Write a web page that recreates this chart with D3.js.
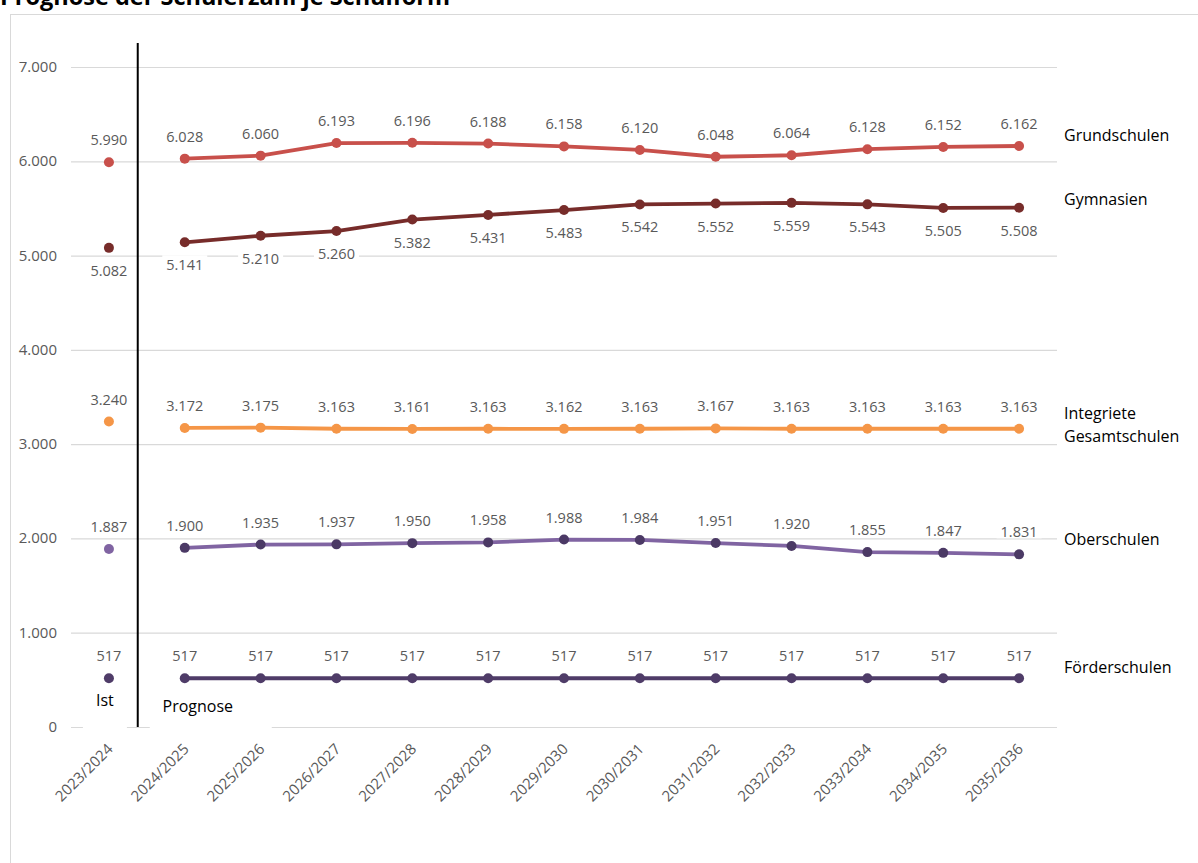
<!DOCTYPE html>
<html>
<head>
<meta charset="utf-8">
<script src="https://cdn.jsdelivr.net/npm/d3@7"></script>
<style>
  html, body { margin: 0; padding: 0; background: #fff; }
  svg { display: block; font-family: "Open Sans", "Noto Sans", sans-serif; }
</style>
</head>
<body>
<div id="chart"></div>
<script>
(function () {
  'use strict';

  /* ── Data ── */
  var years = ['2023/2024', '2024/2025', '2025/2026', '2026/2027', '2027/2028', '2028/2029',
    '2029/2030', '2030/2031', '2031/2032', '2032/2033', '2033/2034', '2034/2035', '2035/2036'];
  var istValues = [5990, 5082, 3240, 1887, 517];
  var grundschulen = [6028, 6060, 6193, 6196, 6188, 6158, 6120, 6048, 6064, 6128, 6152, 6162];
  var gymnasien = [5141, 5210, 5260, 5382, 5431, 5483, 5542, 5552, 5559, 5543, 5505, 5508];
  var gesamtschulen = [3172, 3175, 3163, 3161, 3163, 3162, 3163, 3167, 3163, 3163, 3163, 3163];
  var oberschulen = [1900, 1935, 1937, 1950, 1958, 1988, 1984, 1951, 1920, 1855, 1847, 1831];
  var foerderschulen = [517, 517, 517, 517, 517, 517, 517, 517, 517, 517, 517, 517];
  var yTicks = [0, 1000, 2000, 3000, 4000, 5000, 6000, 7000];
  var nameLines = [['Grundschulen'], ['Gymnasien'], ['Integriete', 'Gesamtschulen'], ['Oberschulen'], ['Förderschulen']];

  var W = 1198, H = 863;
  var prognose = [grundschulen, gymnasien, gesamtschulen, oberschulen, foerderschulen];
  var lineColors = ['#c8504b', '#772c2a', '#f59647', '#8064a2', '#4f3c68'];
  var markColors = ['#c8504b', '#772c2a', '#f59647', '#4b3965', '#4f3c68'];
  var istColors = ['#c8504b', '#772c2a', '#f59647', '#8064a2', '#4f3c68'];
  var labelDy = [-17, 28, -17, -17, -17]; /* baseline of value label vs. point */
  var nameDy = [-5, -3, -10, -9, -5];      /* baseline of series name vs. last point */

  var loc = d3.formatLocale({ decimal: ',', thousands: '.', grouping: [3], currency: ['', '€'] });
  var fmt = loc.format(',d');

  var svg = d3.select('#chart').append('svg')
    .attr('width', W).attr('height', H);

  /* Frame + title */
  svg.append('rect')
    .attr('x', 10.5).attr('y', 14.5)
    .attr('width', W + 20).attr('height', H + 20)
    .attr('fill', '#fff').attr('stroke', '#d9d9d9');

  svg.append('text')
    .attr('x', 0).attr('y', 5)
    .attr('font-size', 23.5).attr('font-weight', 'bold').attr('fill', '#000')
    .text('Prognose der Schülerzahl je Schulform');

  /* Scales */
  var x = d3.scaleBand().domain(years).range([71, 1057]);
  var cx = function (d) { return x(d) + x.bandwidth() / 2; };
  var y = d3.scaleLinear().domain([0, 7000]).range([727, 67]);

  /* Gridlines */
  svg.append('g').selectAll('line')
    .data(yTicks)
    .join('line')
    .attr('x1', 71).attr('x2', 1057)
    .attr('y1', function (d) { return y(d) + 0.5; })
    .attr('y2', function (d) { return y(d) + 0.5; })
    .attr('stroke', '#d9d9d9').attr('stroke-width', 1.2);

  /* Y axis labels */
  svg.append('g').selectAll('text')
    .data(yTicks)
    .join('text')
    .attr('x', 57)
    .attr('y', function (d) { return y(d) + 5; })
    .attr('text-anchor', 'end')
    .attr('font-size', 15).attr('fill', '#595959')
    .text(function (d) { return fmt(d); });

  /* X axis labels */
  svg.append('g').selectAll('text')
    .data(years)
    .join('text')
    .attr('transform', function (d) { return 'translate(' + (cx(d) + 5) + ',' + 750 + ') rotate(-45)'; })
    .attr('text-anchor', 'end')
    .attr('font-size', 15).attr('fill', '#595959')
    .text(function (d) { return d; });

  /* Ist / Prognose annotation boxes */
  var sepX = cx(years[0]) + x.bandwidth() * 0.38;
  var annot = svg.append('g');
  annot.append('rect')
    .attr('x', cx(years[0]) - 26).attr('y', 686).attr('width', 44).attr('height', 48)
    .attr('fill', '#fff');
  annot.append('rect')
    .attr('x', sepX + 12).attr('y', 690).attr('width', 122).attr('height', 44)
    .attr('fill', '#fff');
  annot.append('text')
    .attr('x', cx(years[0]) - 4).attr('y', 706)
    .attr('text-anchor', 'middle').attr('font-size', 16).attr('fill', '#000')
    .text('Ist');
  annot.append('text')
    .attr('x', cx(years[1]) + 13).attr('y', 712)
    .attr('text-anchor', 'middle').attr('font-size', 16).attr('fill', '#000')
    .text('Prognose');

  /* Separator line */
  svg.append('line')
    .attr('x1', sepX).attr('x2', sepX)
    .attr('y1', 43).attr('y2', y(0))
    .attr('stroke', '#000').attr('stroke-width', 2);

  /* Lines */
  var progYears = years.slice(1);
  var line = d3.line()
    .x(function (d, i) { return cx(progYears[i]); })
    .y(function (d) { return y(d); });

  var series = svg.append('g');
  prognose.forEach(function (vals, s) {
    var g = series.append('g');
    g.append('path')
      .attr('d', line(vals))
      .attr('fill', 'none')
      .attr('stroke', lineColors[s])
      .attr('stroke-width', 3.8)
      .attr('stroke-linejoin', 'round');
    g.selectAll('circle')
      .data(vals)
      .join('circle')
      .attr('cx', function (d, i) { return cx(progYears[i]); })
      .attr('cy', function (d) { return y(d); })
      .attr('r', 5)
      .attr('fill', markColors[s]);
    /* Ist point */
    g.append('circle')
      .attr('cx', cx(years[0]))
      .attr('cy', y(istValues[s]))
      .attr('r', 5)
      .attr('fill', istColors[s]);
  });

  /* Data labels (white background hides gridlines) */
  var labels = svg.append('g');
  function addLabel(px, py, dy, v) {
    var base = py + dy;
    var bg = labels.append('rect').attr('fill', '#fff');
    var t = labels.append('text')
      .attr('x', px).attr('y', base)
      .attr('text-anchor', 'middle')
      .attr('font-size', 14.5).attr('fill', '#595959')
      .text(fmt(v));
    var bb = t.node().getBBox();
    bg.attr('x', bb.x - 4).attr('y', bb.y)
      .attr('width', bb.width + 8).attr('height', base + 1 - bb.y);
  }
  prognose.forEach(function (vals, s) {
    addLabel(cx(years[0]), y(istValues[s]), labelDy[s], istValues[s]);
    vals.forEach(function (v, i) {
      addLabel(cx(progYears[i]), y(v), labelDy[s], v);
    });
  });

  /* Series names at right */
  var names = svg.append('g');
  prognose.forEach(function (vals, s) {
    var last = vals[vals.length - 1];
    var t = names.append('text')
      .attr('x', 1064)
      .attr('y', y(last) + nameDy[s])
      .attr('font-size', 16).attr('fill', '#000');
    nameLines[s].forEach(function (ln, k) {
      t.append('tspan').attr('x', 1064).attr('dy', k === 0 ? 0 : 23).text(ln);
    });
  });
})();
</script>
</body>
</html>
